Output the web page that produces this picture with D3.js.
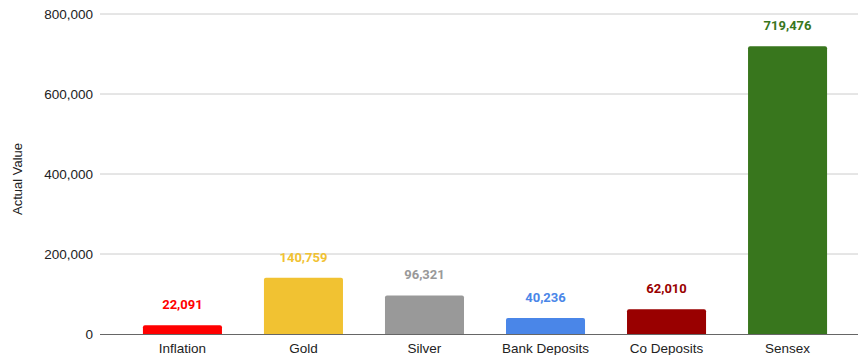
<!DOCTYPE html>
<html>
<head>
<meta charset="utf-8">
<script src="https://cdn.jsdelivr.net/npm/d3@7"></script>
<style>
  html, body { margin: 0; padding: 0; background: #fff; }
  svg { display: block; }
</style>
</head>
<body>
<svg id="chart" width="858" height="355"></svg>
<script>
// Investment outcomes by asset class
const categories = ["Inflation", "Gold", "Silver", "Bank Deposits", "Co Deposits", "Sensex"];
const values = [22091, 140759, 96321, 40236, 62010, 719476];
const barColors = ["#ff0000", "#f1c232", "#999999", "#4a86e8", "#990000", "#38761d"];
const yTicks = [0, 200000, 400000, 600000, 800000];
const yTitle = "Actual Value";

const svg = d3.select("#chart");
const W = 858;
const plotLeft = 100, plotRight = W;
const yTop = 14, yBottom = 334;

const x = d3.scaleBand()
  .domain(categories)
  .range([122, 848])
  .paddingInner(0.347)
  .paddingOuter(0.173);

const y = d3.scaleLinear().domain([0, 800000]).range([yBottom, yTop]);
const fmt = d3.format(",");

// Gridlines
svg.append("g")
  .selectAll("line")
  .data(yTicks.filter(d => d !== 0))
  .join("line")
  .attr("x1", plotLeft).attr("x2", plotRight)
  .attr("y1", d => y(d)).attr("y2", d => y(d))
  .attr("stroke", "#cccccc").attr("stroke-width", 1);

// Y tick labels
svg.append("g")
  .selectAll("text")
  .data(yTicks)
  .join("text")
  .attr("x", 93)
  .attr("y", d => y(d))
  .attr("dy", "0.35em")
  .attr("text-anchor", "end")
  .attr("font-family", "Liberation Sans, Arial, sans-serif")
  .attr("font-size", 13.5)
  .attr("fill", "#222")
  .text(d => fmt(d));

// Y axis title
svg.append("text")
  .attr("transform", "translate(22,179) rotate(-90)")
  .attr("text-anchor", "middle")
  .attr("font-family", "Liberation Sans, Arial, sans-serif")
  .attr("font-size", 13)
  .attr("fill", "#222")
  .text(yTitle);

// Bars with slightly rounded tops
const r = 2;
function barPath(x0, w, top, bottom) {
  return `M${x0},${bottom}V${top + r}Q${x0},${top} ${x0 + r},${top}H${x0 + w - r}Q${x0 + w},${top} ${x0 + w},${top + r}V${bottom}Z`;
}
svg.append("g")
  .selectAll("path")
  .data(categories)
  .join("path")
  .attr("d", (c, i) => barPath(x(c), x.bandwidth(), y(values[i]), y(0)))
  .attr("fill", (c, i) => barColors[i]);

// Baseline
svg.append("line")
  .attr("x1", plotLeft).attr("x2", plotRight)
  .attr("y1", y(0) + 0.5).attr("y2", y(0) + 0.5)
  .attr("stroke", "#666").attr("stroke-width", 1.2);

// Value labels
svg.append("g")
  .selectAll("text")
  .data(categories)
  .join("text")
  .attr("x", c => x(c) + x.bandwidth() / 2)
  .attr("y", (c, i) => y(values[i]) - 16)
  .attr("text-anchor", "middle")
  .attr("font-family", "Roboto, sans-serif")
  .attr("font-weight", "bold")
  .attr("font-size", 13)
  .attr("fill", (c, i) => barColors[i])
  .text((c, i) => fmt(values[i]));

// Category labels
svg.append("g")
  .selectAll("text")
  .data(categories)
  .join("text")
  .attr("x", c => x(c) + x.bandwidth() / 2)
  .attr("y", 353)
  .attr("text-anchor", "middle")
  .attr("font-family", "Liberation Sans, Arial, sans-serif")
  .attr("font-size", 13.5)
  .attr("fill", "#222")
  .text(c => c);
</script>
</body>
</html>
